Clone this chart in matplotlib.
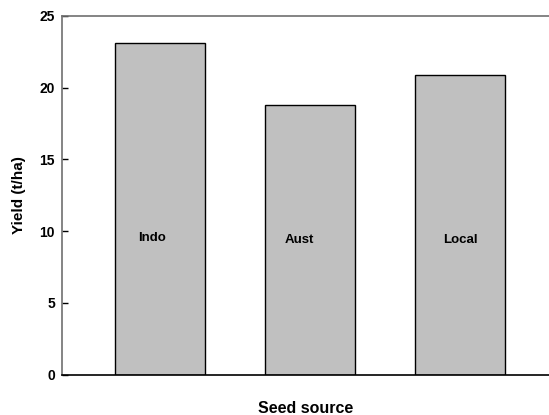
import matplotlib.pyplot as plt

# データ
sources = ["Indo", "Aust", "Local"]
yields = [23.1, 18.8, 20.9]
label_y = [9.55, 9.4, 9.35]
label_dx = [-0.05, -0.07, 0.0]

plt.rcParams['font.family'] = ['Liberation Sans', 'DejaVu Sans']
plt.rcParams['font.weight'] = 'bold'

fig = plt.figure(figsize=(5.49, 4.15), dpi=100)
ax = fig.add_axes([62 / 549, 1 - 374.5 / 415, 1 - 62 / 549, (374.5 - 16) / 415])

x = list(range(len(sources)))
ax.bar(x, yields, width=0.6, color="#c0c0c0", edgecolor="black", linewidth=1)

for i, name in enumerate(sources):
    ax.text(x[i] + label_dx[i], label_y[i], name, ha="center", va="center",
            fontsize=9.5, fontweight="bold")

ax.set_xlim(-0.653, 2.593)
ax.set_ylim(0, 25)
ax.set_yticks([0, 5, 10, 15, 20, 25])
ax.set_xticks([])
ax.tick_params(axis="y", direction="in", length=4, width=1, pad=5, labelsize=10)

ax.spines["right"].set_visible(False)
ax.spines["left"].set_color("#707070")
ax.spines["top"].set_color("#707070")
ax.spines["bottom"].set_color("black")
for s in ax.spines.values():
    s.set_linewidth(1.2)

ax.set_ylabel("Yield (t/ha)", fontsize=11, fontweight="bold", labelpad=10)
ax.set_xlabel("Seed source", fontsize=11.5, fontweight="bold", labelpad=19)

plt.savefig("out.png", dpi=100)
